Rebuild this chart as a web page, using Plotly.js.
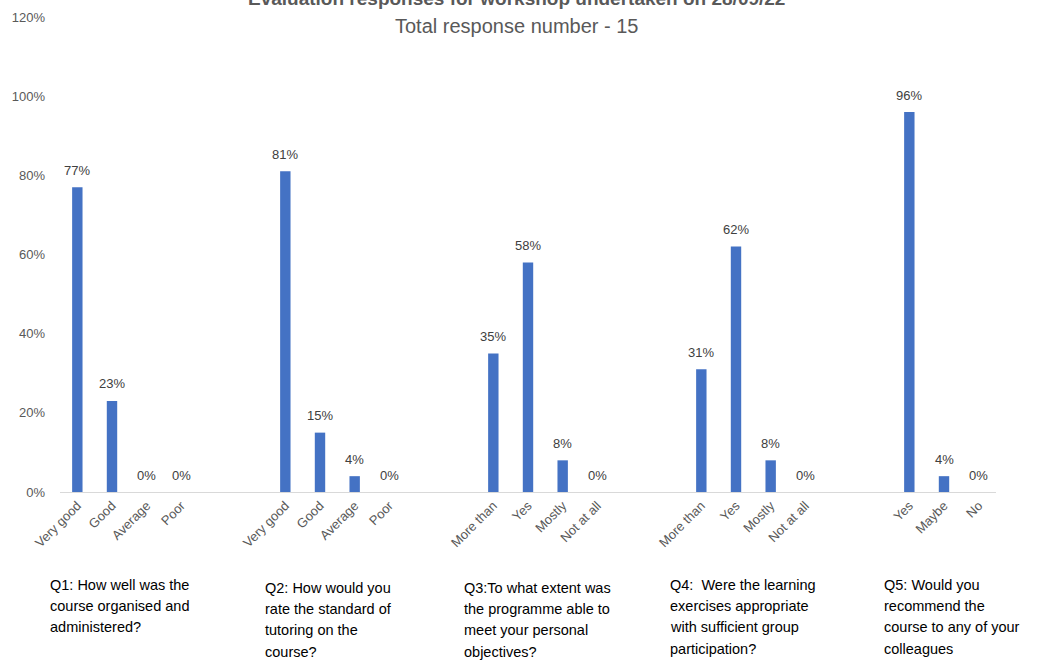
<!DOCTYPE html>
<html>
<head>
<meta charset="utf-8">
<script src="https://cdn.plot.ly/plotly-3.0.1.min.js"></script>
<style>html,body{margin:0;padding:0;background:#fff;}#chart{width:1039px;height:663px;}</style>
</head>
<body>
<div id="chart"></div>
<script>
// Category labels per slot ("" = spacer slot between question groups)
const categories = [
  "Very good","Good","Average","Poor","","",
  "Very good","Good","Average","Poor","","",
  "More than","Yes","Mostly","Not at all","","",
  "More than","Yes","Mostly","Not at all","","",
  "Yes","Maybe","No"
];
// Share of responses (fraction), null for spacer slots
const values = [
  0.77,0.23,0,0,null,null,
  0.81,0.15,0.04,0,null,null,
  0.35,0.58,0.08,0,null,null,
  0.31,0.62,0.08,0,null,null,
  0.96,0.04,0
];
const questionLines = [
  ["Q1: How well was the","course organised and","administered?"],
  ["Q2: How would you","rate the standard of","tutoring on the","course?"],
  ["Q3:To what extent was","the programme able to","meet your personal","objectives?"],
  ["Q4:  Were the learning","exercises appropriate","with sufficient group","participation?"],
  ["Q5: Would you","recommend the","course to any of your","colleagues"]
];
const titleText = "Evaluation responses for workshop undertaken on 28/09/22";
const subtitleText = "Total response number - 15";
const yTickVals = [0,0.2,0.4,0.6,0.8,1.0,1.2];
const yTickText = ["0%","20%","40%","60%","80%","100%","120%"];

const FONT = "Liberation Sans, Arial, sans-serif";
const slots = categories.map((c,i)=>i);
const xs = [], ys = [], txt = [];
slots.forEach(i=>{ if(values[i]!==null){ xs.push(i); ys.push(values[i]); txt.push(Math.round(values[i]*100)+"%"); } });

const W=1039,H=663, mL=60, mR=43, mT=16.5, mB=171;
const pw=W-mL-mR, ph=H-mT-mB;
const px2x = p => (p-mL)/pw;
const py2y = p => (H-mB-p)/ph;

const annotations = [];
annotations.push({text:"<b>"+titleText+"</b>", xref:"paper", yref:"paper", x:px2x(516), y:py2y(-2),
  xanchor:"center", yanchor:"middle", showarrow:false, font:{family:FONT,size:19,color:"#595959"}});
annotations.push({text:subtitleText, xref:"paper", yref:"paper", x:px2x(516), y:py2y(26),
  xanchor:"center", yanchor:"middle", showarrow:false, font:{family:FONT,size:20,color:"#595959"}});
const qLeft = [48,263,462,668,882];
const qTop = [585,588,588,585,585];
questionLines.forEach((lines,qi)=>{
  lines.forEach((ln,li)=>{
    annotations.push({text:ln, xref:"paper", yref:"paper", x:px2x(qLeft[qi]), y:py2y(qTop[qi]+li*21.3),
      xanchor:"left", yanchor:"middle", showarrow:false, font:{family:FONT,size:14.5,color:"#000000"}});
  });
});
// data labels above bars
xs.forEach((x,k)=>{
  annotations.push({text:txt[k], xref:"x", yref:"y", x:x, y:ys[k], xanchor:"center", yanchor:"middle",
    yshift:17, showarrow:false, font:{family:FONT,size:13,color:"#404040"}});
});

const trace = {
  type:"bar", x:xs, y:ys, cliponaxis:false,
  marker:{color:"#4472C4"}, width:0.3, hoverinfo:"skip"
};
const layout = {
  width:W, height:H, margin:{l:mL,r:mR,t:mT,b:mB,pad:0},
  paper_bgcolor:"#ffffff", plot_bgcolor:"#ffffff", showlegend:false,
  font:{family:FONT,color:"#595959"},
  xaxis:{range:[-0.5,categories.length-0.5], tickmode:"array", tickvals:slots, ticktext:categories,
    tickangle:-45, tickfont:{family:FONT,size:13,color:"#595959"}, showgrid:false, zeroline:false,
    showline:true, linecolor:"#d9d9d9", linewidth:1, ticks:"", fixedrange:true},
  yaxis:{range:[0,1.2], tickmode:"array", tickvals:yTickVals, ticktext:yTickText,
    tickfont:{family:FONT,size:13,color:"#595959"}, showgrid:false, zeroline:false, showline:false,
    ticks:"", ticklabelstandoff:14, fixedrange:true},
  annotations:annotations
};
Plotly.newPlot("chart",[trace],layout,{staticPlot:true});
</script>
</body>
</html>
